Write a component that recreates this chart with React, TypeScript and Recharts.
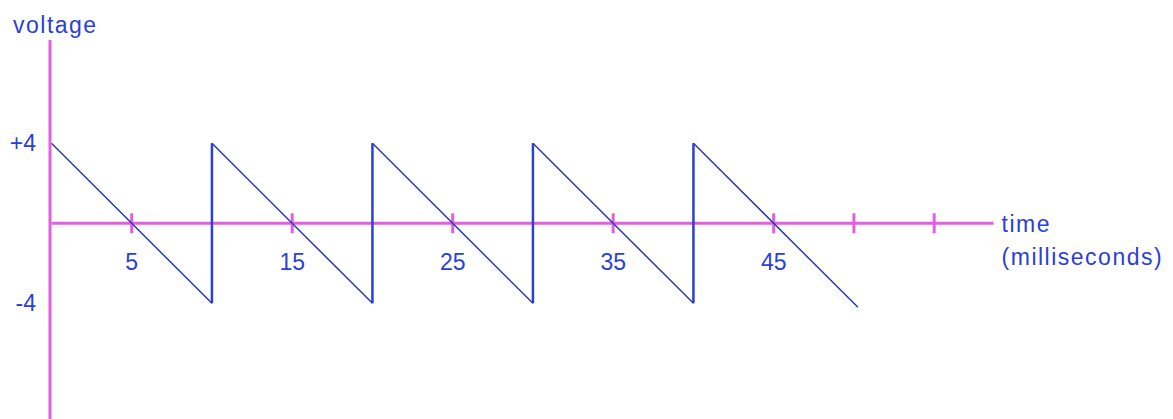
import React from 'react';
import { LineChart, Line, XAxis, YAxis, ReferenceLine } from 'recharts';

// sawtooth: falling ramps and the vertical resets between them
const rampTimes = [0, 10, null, 10, 20, null, 20, 30, null, 30, 40, null, 40, 50.25];
const rampVolts = [4, -4, null, 4, -4, null, 4, -4, null, 4, -4, null, 4, -4.2];
const jumpTimes = [10, 10, null, 20, 20, null, 30, 30, null, 40, 40];
const jumpVolts = [-4, 4, null, -4, 4, null, -4, 4, null, -4, 4];

const tickTimes = [5, 15, 25, 35, 45, 50, 55];
const labelledTimes = [5, 15, 25, 35, 45];
const voltTicks = [-4, 4];
const axisEnd = 58.7;

const ramps = rampTimes.map((t, i) => ({ t, v: rampVolts[i] }));
const jumps = jumpTimes.map((t, i) => ({ t, v: jumpVolts[i] }));

const MAGENTA = '#e35fe0';
const BLUE = '#2a40d6';
const FONT = '"Liberation Sans", Arial, sans-serif';

const App: React.FC = () => {
  return (
    <div style={{ position: 'absolute', left: 0, top: 0, width: 1173, height: 419, background: '#fff' }}>
      <LineChart width={1173} height={419} margin={{ top: 40, right: 0, bottom: 0, left: 0 }}>
        <XAxis type="number" dataKey="t" hide domain={[-0.09, 69.88]} allowDataOverflow scale="linear" />
        <YAxis
          type="number"
          width={50}
          domain={[-9.785, 9.165]}
          allowDataOverflow
          ticks={voltTicks}
          tickFormatter={(v: number) => (v > 0 ? `+${v}` : String(v))}
          tickLine={false}
          tickSize={14}
          tickMargin={0}
          tick={{ fill: BLUE, fontSize: 23, fontFamily: FONT }}
          axisLine={{ stroke: MAGENTA, strokeWidth: 3 }}
          label={{
            content: ({ viewBox }: any) => (
              <text x={viewBox.x + 13} y={viewBox.y - 7} fill={BLUE} fontSize={23} fontFamily={FONT} letterSpacing={1.5}>
                voltage
              </text>
            ),
          }}
        />
        <ReferenceLine
          segment={[{ x: 0, y: 0 }, { x: axisEnd, y: 0 }]}
          stroke={MAGENTA}
          strokeWidth={3}
          label={{
            content: ({ viewBox }: any) => (
              <g fill={BLUE} fontSize={23} fontFamily={FONT} letterSpacing={1.5}>
                <text x={viewBox.x + viewBox.width + 8} y={viewBox.y + 9}>time</text>
                <text x={viewBox.x + viewBox.width + 8} y={viewBox.y + 42}>(milliseconds)</text>
              </g>
            ),
          }}
        />
        {tickTimes.map((t) => (
          <ReferenceLine
            key={t}
            segment={[{ x: t, y: -0.5 }, { x: t, y: 0.5 }]}
            stroke={MAGENTA}
            strokeWidth={3}
            label={
              labelledTimes.includes(t)
                ? { value: String(t), position: 'bottom', offset: 20, fill: BLUE, fontSize: 23, fontFamily: FONT }
                : undefined
            }
          />
        ))}
        <Line data={jumps} dataKey="v" type="linear" stroke={BLUE} strokeWidth={2.5} dot={false} isAnimationActive={false} connectNulls={false} />
        <Line data={ramps} dataKey="v" type="linear" stroke="#2a3cb4" strokeWidth={1.5} dot={false} isAnimationActive={false} connectNulls={false} />
      </LineChart>
    </div>
  );
};

export default App;
